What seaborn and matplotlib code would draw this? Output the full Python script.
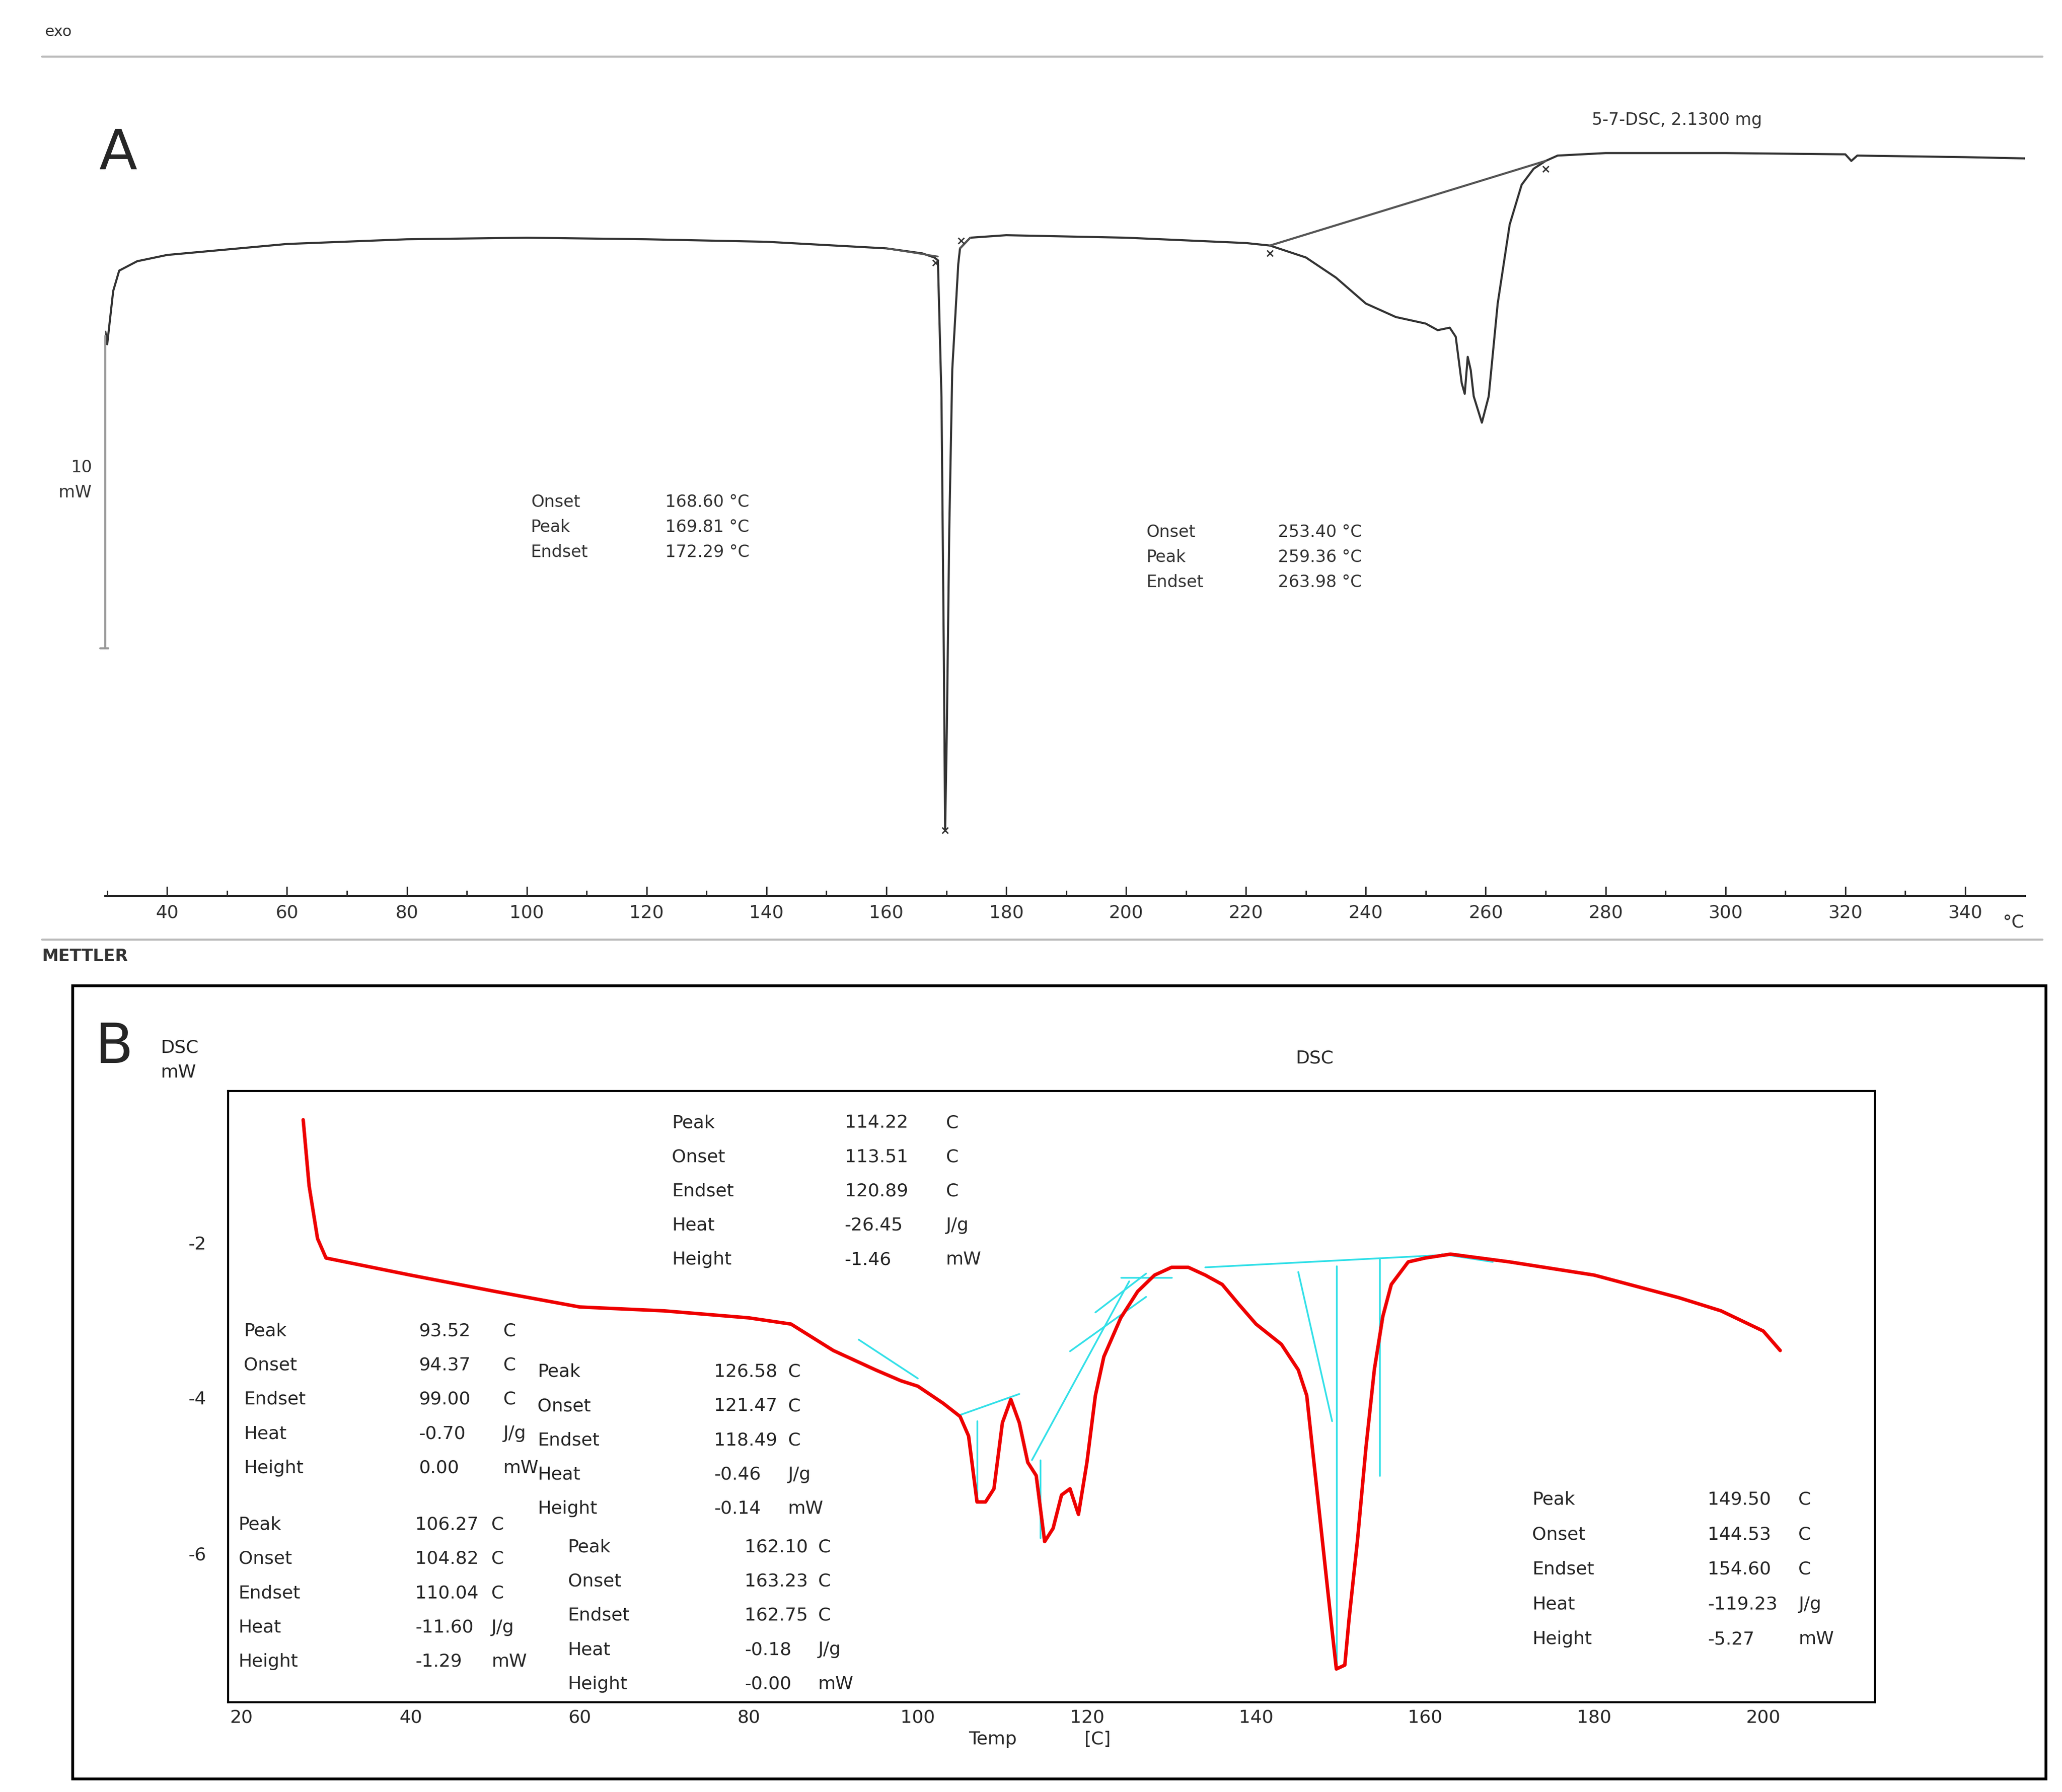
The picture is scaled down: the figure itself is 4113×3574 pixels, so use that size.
import matplotlib
matplotlib.use("Agg")
import matplotlib.pyplot as plt
import seaborn as sns

sns.set_theme(style="white")
plt.rcParams['font.family'] = ['DejaVu Sans']

# Panel A data (temperature °C, heat flow mW, relative)
a_temp = [29.7,30,31,32,35,40,60,80,100,120,140,160,166,168,168.6,169.2,169.6,169.81,170.1,170.5,171,172,172.29,174,180,200,220,224,230,235,240,245,250,252,254,255,256,256.5,257,257.5,258,259.36,260.5,262,264,266,268,270,272,280,300,320,321,322,340,350]
a_mw = [-3.0,-3.4,-1.7,-1.05,-0.75,-0.55,-0.2,-0.05,0.0,-0.05,-0.13,-0.34,-0.5,-0.63,-0.72,-5.1,-13.5,-18.9,-15.6,-9.3,-4.2,-0.84,-0.34,0.0,0.08,0.0,-0.17,-0.25,-0.63,-1.27,-2.1,-2.53,-2.74,-2.95,-2.87,-3.16,-4.64,-4.98,-3.8,-4.22,-5.06,-5.9,-5.06,-2.1,0.42,1.69,2.2,2.45,2.62,2.7,2.7,2.66,2.45,2.62,2.57,2.53]
a_base_t = [224, 270]
a_base_y = [-0.25, 2.45]
a_ticks = list(range(40, 341, 20))

# Panel B data
b_temp = [27.3,28,29,30,40,50,60,70,80,85,90,95,98,100,103,105,106,107,108,109,110,111,112,113,114,115,116,117,118,119,120,121,122,124,126,128,130,132,134,136,138,140,143,145,146,147,148,149,149.5,150.5,151,152,153,154,155,156,158,160,163,170,180,190,195,200,202]
b_mw = [-0.42,-1.27,-1.95,-2.2,-2.42,-2.63,-2.83,-2.88,-2.97,-3.05,-3.39,-3.64,-3.78,-3.85,-4.07,-4.24,-4.49,-5.34,-5.34,-5.17,-4.32,-4.02,-4.32,-4.83,-5.0,-5.85,-5.68,-5.25,-5.17,-5.5,-4.83,-3.97,-3.47,-2.97,-2.63,-2.42,-2.32,-2.32,-2.42,-2.54,-2.8,-3.05,-3.31,-3.64,-3.97,-4.98,-5.99,-7.0,-7.49,-7.44,-6.85,-5.83,-4.64,-3.63,-2.95,-2.54,-2.25,-2.2,-2.15,-2.25,-2.42,-2.71,-2.88,-3.14,-3.39]
b_xticks = list(range(20, 201, 20))
b_yticks = [-2, -4, -6]

fig = plt.figure(figsize=(41.13, 35.74), dpi=100)
W, H = 1565, 1360
def fx(p): return p / W
def fy(p): return 1 - p / H

# ---------- Panel A ----------
axA = fig.add_axes([fx(80), fy(680), fx(1537 - 80), fy(90) - fy(680)])
sns.lineplot(x=a_temp, y=a_mw, ax=axA, color="#333333", lw=3, sort=False)
sns.lineplot(x=a_base_t, y=a_base_y, ax=axA, color="#555555", lw=3)
axA.plot([160, 168.6], [-0.34, -0.6], color="#555555", lw=2.5)
axA.plot([172.29, 174], [-0.34, 0.0], color="#555555", lw=2.5)
axA.plot([168.2, 172.5, 224, 270, 169.81], [-0.8, -0.1, -0.5, 2.2, -18.9], 'x', color="#333333", ms=8, mew=2)
axA.set_xlim(29.7, 350)
axA.set_ylim(-21.0, 3.8)
for s in ["top", "right", "left"]:
    axA.spines[s].set_visible(False)
axA.spines["bottom"].set_color("#333333"); axA.spines["bottom"].set_linewidth(3)
axA.set_yticks([])
axA.set_xticks(a_ticks)
axA.set_xticklabels([str(t) for t in a_ticks], fontsize=26, color="#333333")
axA.set_xticks([t for t in range(30, 350, 10)], minor=True)
axA.tick_params(axis="x", which="major", direction="in", length=14, width=2, bottom=True, pad=12)
axA.tick_params(axis="x", which="minor", direction="in", length=8, width=2, bottom=True)
fig.text(fx(1520), fy(700), "°C", fontsize=26, color="#333333", va="center")
# scale bar
fig.add_artist(plt.Line2D([fx(80), fx(80)], [fy(255), fy(492)], color="#999999", lw=3))
fig.add_artist(plt.Line2D([fx(76), fx(82)], [fy(492), fy(492)], color="#999999", lw=3))
fig.text(fx(62), fy(355), "10", fontsize=24, color="#333333", ha="center", va="center")
fig.text(fx(57), fy(374), "mW", fontsize=24, color="#333333", ha="center", va="center")
fig.add_artist(plt.Line2D([fx(32), fx(1550)], [fy(43), fy(43)], color="#bbbbbb", lw=3))
fig.add_artist(plt.Line2D([fx(32), fx(1550)], [fy(713), fy(713)], color="#bbbbbb", lw=3))
fig.text(fx(34), fy(24), "exo", fontsize=22, color="#333333", va="center")
fig.text(fx(32), fy(726), "METTLER", fontsize=24, color="#333333", va="center", fontweight="bold")
fig.text(fx(75), fy(117), "A", fontsize=80, va="center")
fig.text(fx(1208), fy(91), "5-7-DSC, 2.1300 mg", fontsize=24, color="#333333", va="center")
for i, (k, v) in enumerate(zip(["Onset", "Peak", "Endset"], ["168.60 °C", "169.81 °C", "172.29 °C"])):
    fig.text(fx(403), fy(381 + 19 * i), k, fontsize=24, color="#333333", va="center")
    fig.text(fx(505), fy(381 + 19 * i), v, fontsize=24, color="#333333", va="center")
for i, (k, v) in enumerate(zip(["Onset", "Peak", "Endset"], ["253.40 °C", "259.36 °C", "263.98 °C"])):
    fig.text(fx(870), fy(404 + 19 * i), k, fontsize=24, color="#333333", va="center")
    fig.text(fx(970), fy(404 + 19 * i), v, fontsize=24, color="#333333", va="center")

# ---------- Panel B ----------
fig.add_artist(plt.Rectangle((fx(55), fy(1350)), fx(1553 - 55), fy(748) - fy(1350), fill=False, ec="black", lw=4))
axB = fig.add_axes([fx(173), fy(1292), fx(1423 - 173), fy(828) - fy(1292)])
cyan = "#33e0e8"
cy_lines = [([93, 100], [-3.25, -3.75]), ([105, 112], [-4.22, -3.95]), ([107, 107], [-4.3, -5.3]),
            ([113.5, 125], [-4.8, -2.5]), ([114.5, 114.5], [-4.8, -5.8]), ([121, 127], [-2.9, -2.4]),
            ([124, 130], [-2.45, -2.45]), ([134, 164], [-2.32, -2.15]), ([145, 149], [-2.38, -4.3]),
            ([149.5, 149.5], [-2.3, -7.45]), ([154.6, 154.6], [-2.2, -5.0]), ([162, 168], [-2.15, -2.25]),
            ([118, 127], [-3.4, -2.7])]
for xs, ys in cy_lines:
    axB.plot(xs, ys, color=cyan, lw=2.5)
sns.lineplot(x=b_temp, y=b_mw, ax=axB, color="#ee0000", lw=5, sort=False)
axB.set_xlim(18.4, 213.2)
axB.set_ylim(-7.92, -0.05)
axB.set_xticks(b_xticks)
axB.set_xticklabels([str(t) for t in b_xticks], fontsize=26)
axB.set_yticks(b_yticks)
axB.set_yticklabels([str(t) for t in b_yticks], fontsize=26)
axB.tick_params(axis="y", pad=25)
for s in axB.spines.values():
    s.set_linewidth(3); s.set_color("black")
fig.text(fx(735), fy(1320), "Temp", fontsize=26, va="center")
fig.text(fx(823), fy(1320), "[C]", fontsize=26, va="center")
fig.text(fx(998), fy(803), "DSC", fontsize=26, ha="center", va="center")
fig.text(fx(122), fy(795), "DSC", fontsize=26, va="center")
fig.text(fx(122), fy(814), "mW", fontsize=26, va="center")
fig.text(fx(72), fy(795), "B", fontsize=80, va="center")

def block(x0, x1, x2, y0, dy, vals, units):
    for i, (k, v, u) in enumerate(zip(["Peak", "Onset", "Endset", "Heat", "Height"], vals, units)):
        fig.text(fx(x0), fy(y0 + dy * i), k, fontsize=26, va="center")
        fig.text(fx(x1), fy(y0 + dy * i), v, fontsize=26, va="center")
        fig.text(fx(x2), fy(y0 + dy * i), u, fontsize=26, va="center")
U = ["C", "C", "C", "J/g", "mW"]
block(510, 641, 718, 852, 26, ["114.22", "113.51", "120.89", "-26.45", "-1.46"], U)
block(185, 318, 382, 1010, 26, ["93.52", "94.37", "99.00", "-0.70", "0.00"], U)
block(408, 542, 598, 1041, 26, ["126.58", "121.47", "118.49", "-0.46", "-0.14"], U)
block(181, 315, 373, 1157, 26, ["106.27", "104.82", "110.04", "-11.60", "-1.29"], U)
block(431, 565, 621, 1174, 26, ["162.10", "163.23", "162.75", "-0.18", "-0.00"], U)
block(1163, 1296, 1365, 1138, 26.5, ["149.50", "144.53", "154.60", "-119.23", "-5.27"], U)

fig.savefig("out.png", dpi=100)
